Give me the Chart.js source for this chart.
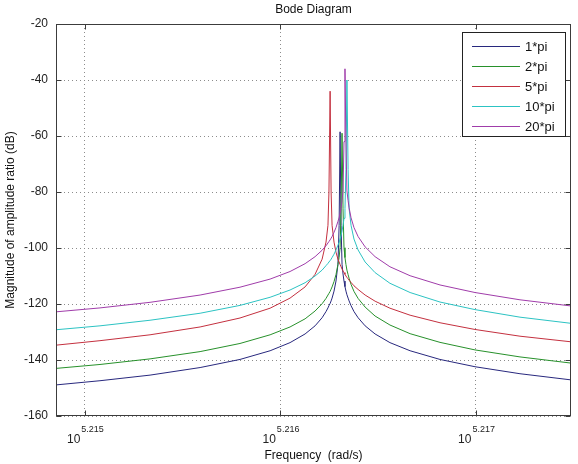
<!DOCTYPE html>
<html>
<head>
<meta charset="utf-8">
<script src="https://cdn.jsdelivr.net/npm/chart.js@4/dist/chart.umd.min.js"></script>
<style>
  html, body { margin: 0; padding: 0; background: #ffffff; }
  #wrap { width: 578px; height: 464px; }
</style>
</head>
<body>
<div id="wrap"><canvas id="c" width="578" height="464"></canvas></div>
<script>
// log10 of frequency (rad/s)
const logFreq = [5.214852, 5.215077, 5.215333, 5.215589, 5.215793, 5.215947, 5.216049, 5.216126, 5.216177,
  5.216213, 5.216233, 5.216243, 5.216248, 5.216254, 5.216259, 5.216264, 5.216274, 5.216284, 5.216294,
  5.216300, 5.216305, 5.216310, 5.216315, 5.216320, 5.216325, 5.216330, 5.216335, 5.216340, 5.216346,
  5.216351, 5.216361, 5.216376, 5.216397, 5.216433, 5.216484, 5.216560, 5.216663, 5.216816, 5.216995,
  5.217225, 5.217486];

const seriesNames = ['1*pi', '2*pi', '5*pi', '10*pi', '20*pi'];

const mag1pi = [-148.9, -147.4, -145.4, -142.7, -139.8, -136.7, -133.8, -130.7, -127.8,
  -124.9, -122.7, -121.4, -120.6, -119.8, -118.9, -117.9, -115.4, -111.8, -105.8,
  -92, -58.5, -92, -105.8, -109.3, -111.8, -113.8, -115.4, -116.7, -117.9,
  -118.9, -120.6, -122.7, -124.9, -127.8, -130.7, -133.8, -136.7, -139.8, -142.4,
  -144.9, -147.1];

const mag2pi = [-143.0, -141.6, -139.6, -137.0, -134.1, -131.0, -128.2, -125.3, -122.5,
  -119.9, -118.0, -116.8, -116.2, -115.5, -114.7, -113.9, -112.0, -109.5, -105.9,
  -103.4, -99.9, -86, -59, -86, -99.9, -103.4, -105.9, -107.9, -109.5,
  -110.8, -113.0, -115.5, -118.0, -121.1, -124.3, -127.5, -130.6, -133.7, -136.4,
  -138.9, -141.1];

const mag5pi = [-134.7, -133.1, -131.0, -128.2, -125.0, -121.5, -117.9, -113.9, -109.4,
  -104.0, -97.9, -91.9, -80, -44, -80, -91.9, -97.9, -101.5, -104.0,
  -105.0, -105.9, -106.7, -107.5, -108.2, -108.8, -109.4, -110.0, -110.5, -111.0,
  -111.5, -112.3, -113.5, -114.8, -116.8, -119.0, -121.5, -124.0, -126.7, -129.1,
  -131.5, -133.5];

const mag10pi = [-129.2, -127.8, -125.8, -123.3, -120.5, -117.6, -115.0, -112.4, -110.0,
  -107.9, -106.3, -105.5, -105.0, -104.5, -104.0, -103.4, -102.2, -100.7, -99.0,
  -98.0, -96.8, -95.5, -93.9, -91.9, -89.4, -85.9, -72, -40, -72,
  -85.9, -91.9, -96.8, -100.7, -105.0, -108.8, -112.6, -115.9, -119.3, -122.0,
  -124.7, -126.9];

const mag20pi = [-122.8, -121.4, -119.4, -116.8, -114.0, -111.1, -108.4, -105.6, -103.1,
  -100.8, -99.2, -98.2, -97.7, -97.1, -96.5, -95.9, -94.4, -92.7, -90.5,
  -89.2, -87.6, -85.6, -83.1, -79.6, -62, -36, -62, -79.6, -83.1,
  -85.6, -89.2, -92.7, -95.9, -99.6, -103.1, -106.7, -109.9, -113.2, -115.9,
  -118.5, -120.7];

const xTickExps = [5.215, 5.216, 5.217];
const xTickSup = ['5.215', '5.216', '5.217'];
const yTicks = [-160, -140, -120, -100, -80, -60, -40, -20];

const colors = ['#28287e', '#27912b', '#c4303f', '#2cc3c3', '#a03caa'];
const allMags = [mag1pi, mag2pi, mag5pi, mag10pi, mag20pi];

const datasets = allMags.map((m, k) => ({
  label: seriesNames[k],
  data: logFreq.map((x, i) => ({ x: x, y: m[i] })),
  borderColor: colors[k],
  backgroundColor: colors[k],
  borderWidth: 1,
  pointRadius: 0,
  tension: 0,
  fill: false,
  order: 5 - k
}));

const FONT = 'Liberation Sans, Arial, Helvetica, sans-serif';

const matlabPlugin = {
  id: 'matlabDeco',
  beforeDraw(chart) {
    const ctx = chart.ctx;
    ctx.save();
    ctx.fillStyle = '#ffffff';
    ctx.fillRect(0, 0, chart.width, chart.height);
    ctx.restore();
  },
  afterDraw(chart) {
    const { ctx, chartArea: a, scales } = chart;
    const xs = scales.x, ys = scales.y;
    ctx.save();
    // axes box
    ctx.strokeStyle = '#3c3c3c';
    ctx.lineWidth = 1;
    const L = Math.round(a.left) + 0.5, R = Math.round(a.right) - 0.5;
    const T = Math.round(a.top) + 0.5, B = Math.round(a.bottom) - 0.5;
    ctx.strokeRect(L, T, R - L, B - T);
    // inward ticks
    ctx.beginPath();
    yTicks.forEach(v => {
      const py = Math.round(ys.getPixelForValue(v)) + 0.5;
      ctx.moveTo(L, py); ctx.lineTo(L + 5, py);
      ctx.moveTo(R, py); ctx.lineTo(R - 5, py);
    });
    xTickExps.forEach(v => {
      const px = Math.round(xs.getPixelForValue(v)) + 0.5;
      ctx.moveTo(px, B); ctx.lineTo(px, B - 5);
      ctx.moveTo(px, T); ctx.lineTo(px, T + 5);
    });
    ctx.stroke();

    // x tick labels 10^exp
    ctx.fillStyle = '#222';
    ctx.textBaseline = 'alphabetic';
    xTickExps.forEach((v, i) => {
      const px = xs.getPixelForValue(v);
      ctx.font = '12px ' + FONT;
      const w10 = ctx.measureText('10').width;
      ctx.font = '9px ' + FONT;
      const wS = ctx.measureText(xTickSup[i]).width;
      const start = px - (w10 + wS) / 2;
      ctx.font = '12px ' + FONT;
      ctx.textAlign = 'left';
      ctx.fillText('10', start, 443);
      ctx.font = '9px ' + FONT;
      ctx.fillText(xTickSup[i], start + w10 + 1, 432);
    });

    // title
    ctx.font = '12px ' + FONT;
    ctx.textAlign = 'center';
    ctx.textBaseline = 'middle';
    ctx.fillStyle = '#111';
    ctx.fillText('Bode Diagram', (a.left + a.right) / 2, 10);

    // legend
    const lx = 462, ly = 32, lw = 103, lh = 104;
    ctx.fillStyle = '#ffffff';
    ctx.fillRect(lx, ly, lw, lh);
    ctx.strokeStyle = '#222';
    ctx.strokeRect(lx + 0.5, ly + 0.5, lw, lh);
    ctx.textAlign = 'left';
    ctx.textBaseline = 'middle';
    ctx.font = '13px ' + FONT;
    seriesNames.forEach((n, k) => {
      const ry = ly + 14 + k * 20;
      ctx.strokeStyle = colors[k];
      ctx.lineWidth = 1;
      ctx.beginPath();
      ctx.moveTo(472, Math.round(ry) + 0.5);
      ctx.lineTo(520, Math.round(ry) + 0.5);
      ctx.stroke();
      ctx.fillStyle = '#111';
      ctx.fillText(n, 525, ry + 1);
    });
    ctx.restore();
  }
};

new Chart(document.getElementById('c'), {
  type: 'line',
  data: { datasets: datasets },
  plugins: [matlabPlugin],
  options: {
    responsive: false,
    animation: false,
    devicePixelRatio: 1,
    layout: { padding: { top: 24, right: 7, left: 0, bottom: 0 } },
    plugins: { legend: { display: false }, tooltip: { enabled: false }, title: { display: false } },
    scales: {
      x: {
        type: 'linear',
        min: 5.214852,
        max: 5.217486,
        afterBuildTicks: s => { s.ticks = xTickExps.map(v => ({ value: v })); },
        afterFit: s => { s.height = 48; },
        ticks: { display: false },
        grid: { color: '#8c8c8c', drawTicks: false, lineWidth: 1 },
        border: { display: false, dash: [1, 3] },
        title: { display: true, text: 'Frequency  (rad/s)', color: '#111', font: { family: FONT, size: 12 }, padding: { top: 0, bottom: 1 } }
      },
      y: {
        type: 'linear',
        min: -160,
        max: -20,
        afterBuildTicks: s => { s.ticks = yTicks.map(v => ({ value: v })); },
        afterFit: s => { s.width = 56; },
        ticks: { color: '#222', font: { family: FONT, size: 12 }, padding: 8 },
        grid: { color: '#8c8c8c', drawTicks: false, lineWidth: 1 },
        border: { display: false, dash: [1, 3] },
        title: { display: true, text: 'Magnitude of amplitude ratio (dB)', color: '#111', font: { family: FONT, size: 12 }, padding: { top: 3, bottom: 0 } }
      }
    }
  }
});
</script>
</body>
</html>
